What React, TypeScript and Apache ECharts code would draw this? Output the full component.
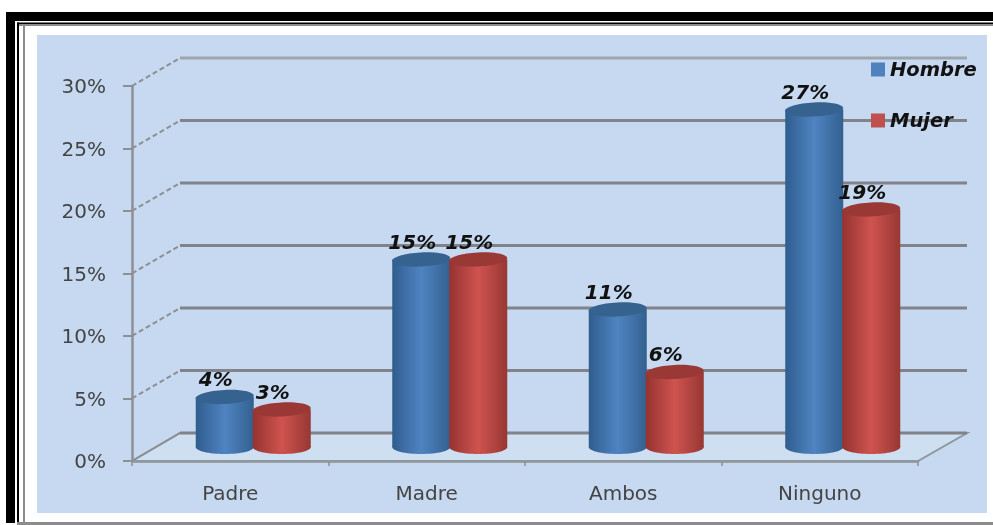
import React, { useEffect, useRef } from "react";
import * as echarts from "echarts";

const categories = ["Padre", "Madre", "Ambos", "Ninguno"];
const hombre = [4, 15, 11, 27];
const mujer = [3, 15, 6, 19];
const gridValues = [0, 5, 10, 15, 20, 25, 30];

const FONT = "DejaVu Sans";
const DEPTH_X = 48;
const DEPTH_Y = 28;
const BAR_W = 58;
const RY = 7;

function cylinder(side: number, edgeL: string, mid: string, edgeR: string, topColor: string) {
  return (params: any, api: any) => {
    const cat = api.value(0);
    const val = api.value(1);
    const top = api.coord([cat, val]);
    const base = api.coord([cat, 0]);
    const cx = top[0] + DEPTH_X / 2 + (side * BAR_W) / 2 - (side > 0 ? 1.5 : 0.5);
    const topY = top[1] - DEPTH_Y / 2;
    const baseY = base[1] - DEPTH_Y / 2;
    const fill = () =>
      new echarts.graphic.LinearGradient(0, 0, 1, 0, [
        { offset: 0, color: edgeL },
        { offset: 0.5, color: mid },
        { offset: 1, color: edgeR },
      ]);
    return {
      type: "group",
      children: [
        {
          type: "ellipse",
          shape: { cx, cy: baseY, rx: BAR_W / 2, ry: RY },
          style: { fill: fill() },
        },
        {
          type: "rect",
          shape: { x: cx - BAR_W / 2, y: topY, width: BAR_W, height: baseY - topY },
          style: { fill: fill() },
        },
        {
          type: "ellipse",
          x: cx,
          y: topY,
          rotation: 0.05,
          shape: { cx: 0, cy: 0, rx: BAR_W / 2, ry: RY },
          style: { fill: topColor },
        },
        {
          type: "text",
          x: cx - 9,
          y: topY - 18,
          style: {
            text: `${val}%`,
            fill: "#111111",
            font: `italic bold 20px "${FONT}"`,
            align: "center",
            verticalAlign: "middle",
          },
        },
      ],
    };
  };
}

function wall(params: any, api: any) {
  const v = api.value(1);
  const left = params.coordSys.x;
  const right = left + params.coordSys.width;
  const y = api.coord([0, v])[1];
  const children: any[] = [];
  if (v === 0) {
    children.push({
      type: "polygon",
      shape: {
        points: [
          [left, y],
          [left + DEPTH_X, y - DEPTH_Y],
          [right + DEPTH_X + 1, y - DEPTH_Y],
          [right, y],
        ],
      },
      style: { fill: "#cfdff2", stroke: "#8f979f", lineWidth: 2 },
    });
  }
  children.push({
    type: "line",
    shape: { x1: left, y1: y, x2: left + DEPTH_X, y2: y - DEPTH_Y },
    style: {
      stroke: "#8c8f94",
      lineWidth: 2,
      lineDash: v === 0 ? undefined : [5, 3],
    },
  });
  children.push({
    type: "line",
    shape: { x1: left + DEPTH_X, y1: y - DEPTH_Y, x2: right + DEPTH_X + 1, y2: y - DEPTH_Y },
    style: { stroke: v === 30 ? "#9ea5ae" : "#80848a", lineWidth: 3 },
  });
  return { type: "group", children };
}

export default function App() {
  const ref = useRef<HTMLDivElement>(null);
  useEffect(() => {
    document.body.style.margin = "0";
    const chart = echarts.init(ref.current!, undefined, { renderer: "svg" });
    chart.setOption({
      animation: false,
      backgroundColor: "#ffffff",
      textStyle: { fontFamily: FONT },
      graphic: [
        { type: "rect", z: 0, shape: { x: 37, y: 35, width: 950, height: 478 }, style: { fill: "#c6d9f0" } },
        { type: "rect", z: 0, shape: { x: 6, y: 12, width: 987, height: 9 }, style: { fill: "#000" } },
        { type: "rect", z: 0, shape: { x: 6, y: 12, width: 9, height: 511 }, style: { fill: "#000" } },
        { type: "rect", z: 0, shape: { x: 17, y: 22.5, width: 976, height: 1.5 }, style: { fill: "#000" } },
        { type: "rect", z: 0, shape: { x: 17, y: 24, width: 976, height: 2 }, style: { fill: "#8c8c8c" } },
        { type: "rect", z: 0, shape: { x: 17, y: 22.5, width: 2, height: 501 }, style: { fill: "#000" } },
        { type: "rect", z: 0, shape: { x: 23, y: 24, width: 2, height: 499 }, style: { fill: "#8c8c8c" } },
        { type: "rect", z: 0, shape: { x: 17, y: 522, width: 976, height: 3 }, style: { fill: "#8c8c8c" } },
      ],
      grid: { left: 132, top: 86, width: 786, height: 375, containLabel: false },
      legend: {
        data: ["Hombre", "Mujer"],
        orient: "vertical",
        left: 866,
        top: 54.5,
        itemWidth: 14,
        itemHeight: 14,
        itemGap: 31,
        icon: "rect",
        textStyle: { fontFamily: FONT, fontStyle: "italic", fontWeight: "bold", fontSize: 19.5, color: "#111111" },
      },
      xAxis: {
        type: "category",
        data: categories,
        axisLine: { lineStyle: { color: "#8c8f94", width: 2.5 } },
        axisTick: { show: true, length: 5, alignWithLabel: false, lineStyle: { color: "#8c8f94", width: 1.5 } },
        axisLabel: { fontFamily: FONT, fontSize: 20, color: "#444444", margin: 22 },
      },
      yAxis: {
        type: "value",
        min: 0,
        max: 30,
        interval: 5,
        splitLine: { show: false },
        axisLine: { show: true, lineStyle: { color: "#8c8f94", width: 2.5 } },
        axisTick: { show: true, length: 9, lineStyle: { color: "#8c8f94", width: 2 } },
        axisLabel: { fontFamily: FONT, fontSize: 20, color: "#444444", margin: 26, formatter: "{value}%" },
      },
      series: [
        {
          type: "custom",
          name: "wall",
          silent: true,
          clip: false,
          renderItem: wall,
          encode: { x: 0, y: 1 },
          data: gridValues.map((v) => [0, v]),
        },
        {
          type: "custom",
          name: "Hombre",
          clip: false,
          itemStyle: { color: "#4f81bd" },
          renderItem: cylinder(-1, "#2f5d8e", "#4f84c2", "#33608f", "#35628f"),
          encode: { x: 0, y: 1 },
          data: hombre.map((v, i) => [i, v]),
        },
        {
          type: "custom",
          name: "Mujer",
          clip: false,
          itemStyle: { color: "#c0504d" },
          renderItem: cylinder(1, "#953330", "#cf534f", "#973733", "#9a3835"),
          encode: { x: 0, y: 1 },
          data: mujer.map((v, i) => [i, v]),
        },
      ],
    });
    return () => chart.dispose();
  }, []);
  return (
    <div
      ref={ref}
      style={{ position: "fixed", left: 0, top: 0, width: 993, height: 525, filter: "blur(0.6px)" }}
    />
  );
}
